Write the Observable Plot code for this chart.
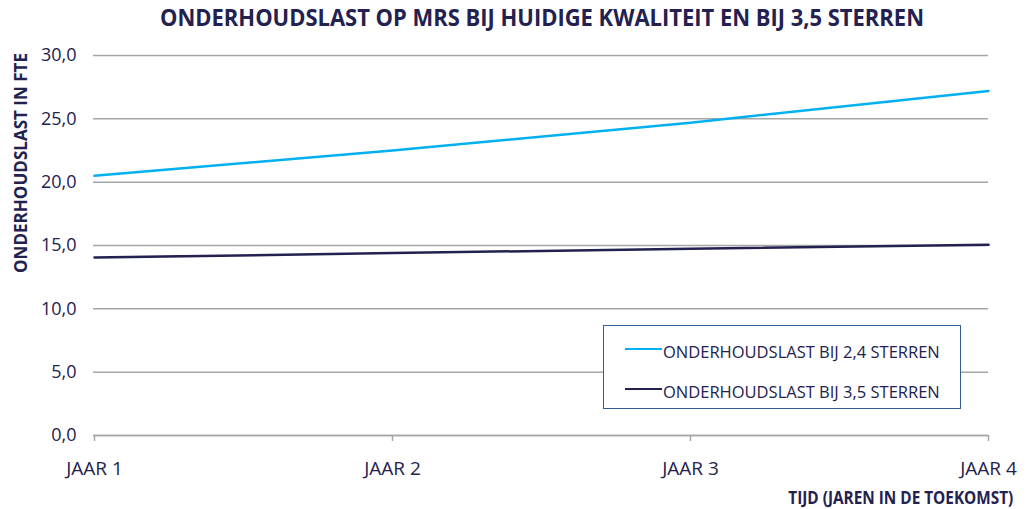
<!DOCTYPE html>
<html>
<head>
<meta charset="utf-8">
<script src="https://cdn.jsdelivr.net/npm/d3@7"></script>
<script src="https://cdn.jsdelivr.net/npm/@observablehq/plot@0.6"></script>
<style>
  html, body { margin: 0; padding: 0; background: #fff; }
  #wrap { position: relative; width: 1028px; height: 509px; overflow: hidden; }
  .fit { position: absolute; white-space: nowrap; font-family: "Open Sans", sans-serif;
    font-weight: bold; color: #23214f; line-height: 1; }
  #title { font-size: 22.5px; transform-origin: 0 0; }
  #ytitle { font-size: 18px; }
  #xtitle { font-size: 17px; transform-origin: 100% 0; }
  #chart { position: absolute; left: 0; top: 40px; }
  #legend { position: absolute; left: 603px; top: 325px; width: 356px; height: 82px;
    border: 1.5px solid #2f5f91; background: #fff; font-family: "Open Sans", sans-serif;
    font-size: 16.5px; color: #23214f; }
  .item { position: absolute; left: 21px; display: flex; align-items: center; line-height: 1; }
  .swatch { width: 37px; height: 0; border-top: 2.5px solid; margin-right: 1px; position: relative; top: -3px; }
</style>
</head>
<body>
<div id="wrap">
  <div id="chart"></div>
  <div id="legend"></div>
  <div id="title" class="fit"></div>
  <div id="ytitle" class="fit"></div>
  <div id="xtitle" class="fit"></div>
</div>
<script>
const title = "ONDERHOUDSLAST OP MRS BIJ HUIDIGE KWALITEIT EN BIJ 3,5 STERREN";
const yTitle = "ONDERHOUDSLAST IN FTE";
const xTitle = "TIJD (JAREN IN DE TOEKOMST)";
const years = ["JAAR 1", "JAAR 2", "JAAR 3", "JAAR 4"];
const series24 = [20.5, 22.5, 24.7, 27.2];
const series35 = [14.05, 14.4, 14.75, 15.05];
const seriesNames = ["ONDERHOUDSLAST BIJ 2,4 STERREN", "ONDERHOUDSLAST BIJ 3,5 STERREN"];
const seriesColors = ["#00b0f0", "#23214f"];
const yTicks = [0, 5, 10, 15, 20, 25, 30];

const data = [
  ...years.map((y, i) => ({year: y, value: series24[i], series: seriesNames[0]})),
  ...years.map((y, i) => ({year: y, value: series35[i], series: seriesNames[1]}))
];

const fmt = d => d.toFixed(1).replace(".", ",");

const plot = Plot.plot({
  width: 1028,
  height: 469,
  marginTop: 15,
  marginBottom: 74,
  marginLeft: 93,
  marginRight: 40,
  style: {fontFamily: "Open Sans, sans-serif", color: "#23214f", background: "transparent"},
  x: {type: "point", domain: years, padding: 0},
  y: {domain: [0, 30], ticks: yTicks},
  color: {domain: seriesNames, range: seriesColors},
  marks: [
    Plot.gridY(yTicks, {stroke: "#a6a6a6", strokeOpacity: 1, strokeWidth: 1.5}),
    Plot.axisY(yTicks, {tickSize: 0, tickPadding: 17, tickFormat: fmt, label: null, fill: "#23214f", fontSize: 18}),
    Plot.axisX(years, {tickSize: 6, tickPadding: 20, label: null, stroke: "#a6a6a6", strokeWidth: 1.5, fill: "#23214f", fontSize: 19}),
    Plot.ruleY([0], {stroke: "#a6a6a6", strokeWidth: 1.5}),
    Plot.line(data, {x: "year", y: "value", z: "series", stroke: "series", strokeWidth: 2.5})
  ]
});
document.getElementById("chart").appendChild(plot);

// legend
const legend = document.getElementById("legend");
seriesNames.forEach((name, i) => {
  const item = document.createElement("div");
  item.className = "item";
  item.style.top = (i === 0 ? 18 : 58) + "px";
  const sw = document.createElement("div");
  sw.className = "swatch";
  sw.style.borderTopColor = seriesColors[i];
  const label = document.createElement("span");
  label.textContent = name;
  item.appendChild(sw);
  item.appendChild(label);
  legend.appendChild(item);
});

// titles fitted to the reference extents
function fitText(el, text, width) {
  el.textContent = text;
  const w = el.getBoundingClientRect().width;
  return width / w;
}
const t = document.getElementById("title");
const ts = fitText(t, title, 764);
t.style.left = "160px"; t.style.top = "7px";
t.style.transform = `scaleX(${ts})`;

const yt = document.getElementById("ytitle");
const ys = fitText(yt, yTitle, 220);
const ytw = yt.getBoundingClientRect().width, yth = yt.getBoundingClientRect().height;
yt.style.left = (20 - ytw / 2) + "px";
yt.style.top = (163 - yth / 2) + "px";
yt.style.transform = `rotate(-90deg) scaleX(${ys})`;

const xt = document.getElementById("xtitle");
const xs = fitText(xt, xTitle, 225);
const xtw = xt.getBoundingClientRect().width;
xt.style.left = (1013 - xtw) + "px";
xt.style.top = "489px";
xt.style.transform = `scaleX(${xs})`;
</script>
</body>
</html>
